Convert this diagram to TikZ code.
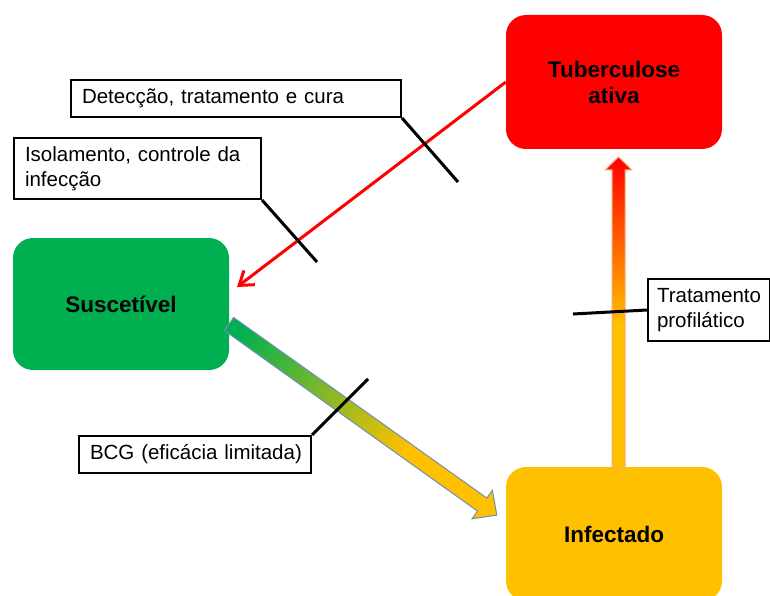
\documentclass[tikz,border=0pt]{standalone}
\usepackage{fontspec}
\setmainfont{Liberation Sans}
\usepackage{xcolor}
\usepackage{tikz}
\usetikzlibrary{calc, arrows.meta, positioning}

\definecolor{vermelho}{HTML}{FF0000}
\definecolor{verde}{HTML}{00B050}
\definecolor{amarelo}{HTML}{FFC000}
\definecolor{contornoazul}{HTML}{6F8FB5}
\definecolor{contornolaranja}{HTML}{F8AB78}

% degrades das setas largas
\pgfdeclarehorizontalshading{degradeverde}{100bp}{color(0bp)=(verde); color(27bp)=(verde); color(58bp)=(amarelo); color(100bp)=(amarelo)}
\pgfdeclareverticalshading{degradevermelho}{100bp}{color(0bp)=(amarelo); color(48bp)=(amarelo); color(75bp)=(vermelho); color(100bp)=(vermelho)}

\tikzset{
  estado/.style={rounded corners=20pt, minimum width=216pt, align=center, inner sep=0pt,
    font=\fontsize{22.5}{26}\selectfont\bfseries},
  rotulo/.style={draw, line width=2pt, fill=white, anchor=north west, align=left,
    inner xsep=11pt, inner ysep=0pt, font=\fontsize{20.5}{25}\selectfont},
  fio/.style={line width=3pt},
}

\begin{document}
\begin{tikzpicture}[x=1pt, y=-1pt]
    \useasboundingbox (0,0) rectangle (770,596);
    \clip (0,0) rectangle (770,596);

    % Os tres estados
    \node[estado, fill=vermelho, minimum height=134pt] (tb) at (614,82) {Tuberculose\\ativa};
    \node[estado, fill=verde, minimum height=132pt] (sus) at (121,304) {Suscetível};
    \node[estado, fill=amarelo, minimum height=134pt] (inf) at (614,534) {Infectado};

    % Pontas livres das setas e dos fios
    \coordinate (sus-chega) at (237,287);
    \coordinate (g-ini) at (229,324);
    \coordinate (v-ini) at (618.5,468);
    \coordinate (v-fim) at (618.5,157);
    \coordinate (det-p) at (458,182);
    \coordinate (iso-p) at (317,262);
    \coordinate (trat-p) at (573,314);
    \coordinate (bcg-p) at (368,379);

    % Cura: tuberculose ativa -> suscetivel
    \draw[vermelho, line width=3pt, -{Straight Barb[length=13pt, width=18pt]}] (tb.west) -- (sus-chega);

    % Infeccao: suscetivel -> infectado
    \begin{scope}[transform canvas={shift={(g-ini)}, rotate=-35.5}]
        \shade[shading=degradeverde, draw=contornoazul, line width=1pt]
            (0,-8) -- (311,-8) -- (311,-17.5) -- (329,0) -- (311,17.5) -- (311,8) -- (0,8) -- cycle;
    \end{scope}

    % Progressao: infectado -> tuberculose ativa
    \shade[shading=degradevermelho, draw=contornolaranja, line width=1pt]
        ($(v-ini)+(-6.5,0)$) -- ($(v-fim)+(-6.5,13)$) -- ($(v-fim)+(-13.5,13)$) -- (v-fim)
        -- ($(v-fim)+(13.5,13)$) -- ($(v-fim)+(6.5,13)$) -- ($(v-ini)+(6.5,0)$) -- cycle;

    % Rotulos das intervencoes
    \node[rotulo, minimum width=330pt, minimum height=37pt, text width=308pt] (det) at (70,79) {Detecção, tratamento e cura};
    \node[rotulo, minimum width=247pt, minimum height=61pt, text width=225pt] (iso) at (13,137) {Isolamento, controle da\\infecção};
    \node[rotulo, minimum width=122pt, minimum height=62pt, text width=104pt, inner xsep=9pt] (trat) at (647,278) {Tratamento\\profilático};
    \node[rotulo, minimum width=232pt, minimum height=37pt, text width=216pt, inner xsep=8pt] (bcg) at (78,435) {\hspace{3pt}BCG (eficácia limitada)};

    % Fios que ligam os rotulos as setas
    \draw[fio] (det.south east) -- (det-p);
    \draw[fio] (iso.south east) -- (iso-p);
    \draw[fio] (trat.west) -- (trat-p);
    \draw[fio] (bcg.north east) -- (bcg-p);
\end{tikzpicture}
\end{document}
